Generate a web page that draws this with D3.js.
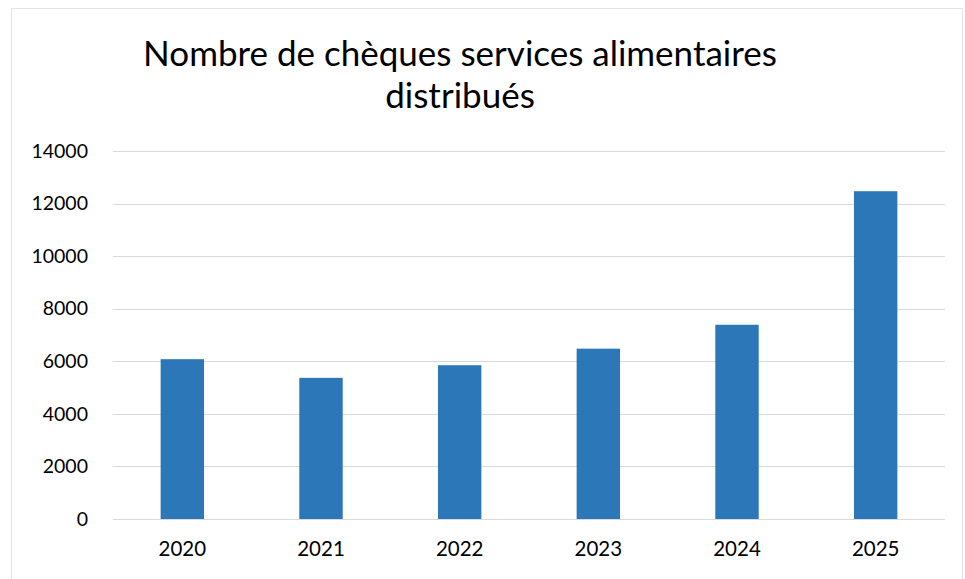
<!DOCTYPE html>
<html>
<head>
<meta charset="utf-8">
<script src="https://cdn.jsdelivr.net/npm/d3@7"></script>
<style>
  body { margin: 0; background: #fff; }
  svg { display: block; font-family: Lato, "Open Sans", sans-serif; }
</style>
</head>
<body>
<svg id="chart" width="965" height="579"></svg>
<script>
"use strict"

// data
const years = ["2020", "2021", "2022", "2023", "2024", "2025"];
const cheques = [6080, 5370, 5850, 6480, 7390, 12470];
const yTicks = [0, 2000, 4000, 6000, 8000, 10000, 12000, 14000];
const titleLines = ["Nombre de chèques services alimentaires", "distribués"];

const svg = d3.select("#chart");
const margin = { top: 151, right: 20, bottom: 60, left: 113 };

// faint frame around the chart
svg.append("rect")
    .attr("x", 11.5).attr("y", 8.5)
    .attr("width", 951).attr("height", 580)
    .attr("fill", "none")
    .attr("stroke", "#e3e3e3");

const x = d3.scaleBand()
    .domain(years)
    .range([margin.left, 945])
    .paddingInner(0.687)
    .paddingOuter(0.3435);

const y = d3.scaleLinear()
    .domain([0, 14000])
    .range([519, margin.top]);

// gridlines
svg.append("g")
    .selectAll("line")
    .data(yTicks)
    .join("line")
    .attr("x1", margin.left)
    .attr("x2", 945)
    .attr("y1", d => Math.round(y(d)) + 0.5)
    .attr("y2", d => Math.round(y(d)) + 0.5)
    .attr("stroke", "#d9d9d9")
    .attr("stroke-width", 1);

// bars
svg.append("g")
    .selectAll("rect")
    .data(cheques)
    .join("rect")
    .attr("x", (d, i) => x(years[i]))
    .attr("width", x.bandwidth())
    .attr("y", d => y(d))
    .attr("height", d => y(0) - y(d))
    .attr("fill", "#2b77b8");

// y axis labels
const yAxis = svg.append("g")
    .attr("transform", `translate(${margin.left - 25}, 0)`)
    .call(d3.axisLeft(y).tickValues(yTicks).tickSize(0).tickPadding(0).tickFormat(d3.format("d")));
yAxis.select(".domain").remove();
yAxis.selectAll("text")
    .attr("font-family", "Lato, 'Open Sans', sans-serif")
    .attr("font-size", 19.5)
    .attr("fill", "#000");

// x axis labels
const xAxis = svg.append("g")
    .attr("transform", `translate(0, ${y(0)})`)
    .call(d3.axisBottom(x).tickSize(0).tickPadding(22));
xAxis.select(".domain").remove();
xAxis.selectAll("text")
    .attr("font-family", "Lato, 'Open Sans', sans-serif")
    .attr("font-size", 20.5)
    .attr("fill", "#000");

// title
svg.append("g")
    .selectAll("text")
    .data(titleLines)
    .join("text")
    .attr("x", 460)
    .attr("y", (d, i) => 66 + i * 42)
    .attr("text-anchor", "middle")
    .attr("font-size", 35)
    .attr("fill", "#000")
    .text(d => d);
</script>
</body>
</html>
